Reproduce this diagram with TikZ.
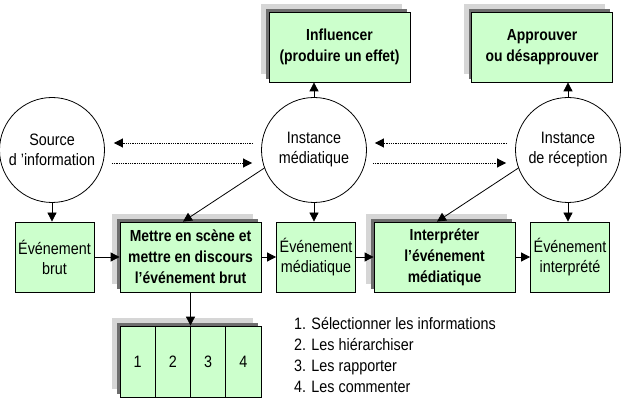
\documentclass[tikz,border=0pt]{standalone}
\usepackage{fontspec}
\setmainfont{Liberation Sans}[FakeStretch=0.87]
\usepackage{xcolor}
\usepackage{tikz}
\usetikzlibrary{arrows.meta,shadows}
\definecolor{MedGreen}{HTML}{CCFFCC}
\definecolor{MedShadow}{HTML}{6E6E6E}
\definecolor{MedHalo}{HTML}{D6D6D6}

\tikzset{
  txt/.style={font=\fontsize{16.5}{20}\selectfont,align=center,inner sep=0pt},
  instance/.style={txt,circle,draw,line width=.8pt,minimum size=105pt},
  event/.style={txt,draw,line width=.8pt,fill=MedGreen,minimum width=79pt,minimum height=70pt},
  action/.style={event,minimum width=141pt,font=\bfseries\fontsize{16}{21}\selectfont,
    general shadow={fill=MedHalo,shadow xshift=-8pt,shadow yshift=8pt},
    general shadow={fill=MedShadow,shadow xshift=-3pt,shadow yshift=3pt}},
  cell/.style={txt,draw,line width=.8pt,fill=MedGreen,minimum width=35.25pt,minimum height=71pt},
  flow/.style={line width=.8pt,-{Triangle[length=9pt,width=9pt]}},
  echo/.style={flow,dash pattern=on .9pt off .9pt,line width=.7pt}
}

\begin{document}
\begin{tikzpicture}[x=1pt,y=-1pt]
\useasboundingbox (0,0) rectangle (624,414);
% instances
\node[instance] (src)   at (52,150)  {Source\\d 'information};
\node[instance] (instm) at (314,150) {Instance\\médiatique};
\node[instance] (instr) at (568,150) {Instance\\de réception};
% effets
\node[action] (infl) at (339.5,47) {Influencer\\(produire un effet)};
\node[action] (appr) at (542,47)   {Approuver\\ou désapprouver};
% chaine des evenements
\node[event]  (evbrut) at (54.5,257)  {Événement\\brut};
\node[action] (mettre) at (190.5,257) {Mettre en scène et\\mettre en discours\\l’événement brut};
\node[event]  (evmed)  at (316,257)   {Événement\\médiatique};
\node[action] (interp) at (444.5,257) {Interpréter\\l’événement\\médiatique};
\node[event]  (evint)  at (570,257)   {Événement\\interprété};
% les quatre operations
\node[action,minimum height=71pt] (seg) at (190.5,361.5) {};
\foreach \i in {1,...,4}
  \node[cell] (c\i) at (120+35.25*\i-17.6,361.5) {\i};
\node[txt,anchor=north west,align=left,font=\fontsize{16.5}{21}\selectfont] (ops) at (294,317)
  {1. Sélectionner les informations\\2. Les hiérarchiser\\3. Les rapporter\\4. Les commenter};

\draw[flow] (instm.north) -- (instm.north |- infl.south);
\draw[flow] (instr.north) -- (instr.north |- appr.south);
\draw[flow] (src.south) -- (src.south |- evbrut.north);
\draw[flow] (instm.south) -- (instm.south |- evmed.north);
\draw[flow] (instr.south) -- (instr.south |- evint.north);
\draw[flow] (instm.200) -- ([xshift=-7.5pt]mettre.north);
\draw[flow] (instr.200) -- ([xshift=-7.5pt]interp.north);
\draw[flow] (evbrut) -- (mettre);
\draw[flow] (mettre) -- (evmed);
\draw[flow] (evmed) -- (interp);
\draw[flow] (interp) -- (evint);
\draw[flow] (mettre.south) -- (seg.north);
% echanges
\draw[echo] ([xshift=-8pt,yshift=7pt]instm.west) -- ([xshift=9pt,yshift=7pt]src.east);
\draw[echo] ([xshift=7pt,yshift=-13pt]src.east) -- ([xshift=-9pt,yshift=-13pt]instm.west);
\draw[echo] ([xshift=-8pt,yshift=7pt]instr.west) -- ([xshift=8pt,yshift=7pt]instm.east);
\draw[echo] ([xshift=6pt,yshift=-13pt]instm.east) -- ([xshift=-9pt,yshift=-13pt]instr.west);
\end{tikzpicture}
\end{document}
